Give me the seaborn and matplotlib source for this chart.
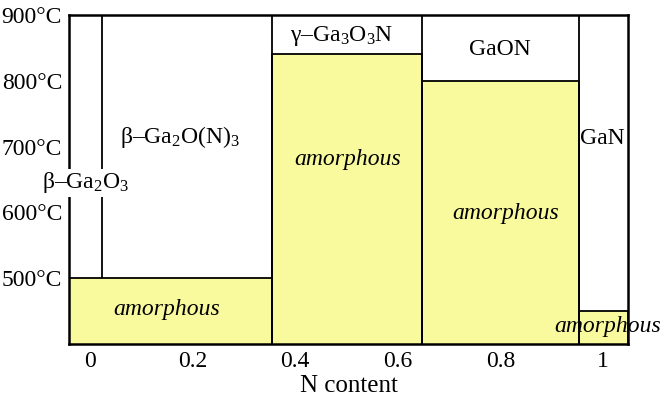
import seaborn as sns
import matplotlib.pyplot as plt
import numpy as np

# phase boundaries along N content, amorphous limit (deg C) per region
edges = [-0.041, 0.355, 0.647, 0.953, 1.049]
amorphous_top = [500, 841, 800, 450]
ga2o3_line = 0.023
x_ticks = [0, 0.2, 0.4, 0.6, 0.8, 1]
x_tick_labels = ['0', '0.2', '0.4', '0.6', '0.8', '1']
y_ticks = [500, 600, 700, 800, 900]
y_tick_labels = ['500°C', '600°C', '700°C', '800°C', '900°C']

sns.set_style('white')
plt.rcParams['font.family'] = ['Liberation Serif', 'DejaVu Serif']
plt.rcParams['mathtext.fontset'] = 'custom'
plt.rcParams['mathtext.rm'] = 'Liberation Serif'
plt.rcParams['mathtext.it'] = 'Liberation Serif:italic'
plt.rcParams['text.color'] = 'black'
plt.rcParams['axes.labelcolor'] = 'black'
plt.rcParams['xtick.color'] = 'black'
plt.rcParams['ytick.color'] = 'black'

fig = plt.figure(figsize=(6.62, 3.98), dpi=100)
ax = fig.add_axes([69 / 662, 1 - 344 / 398, (628 - 69) / 662, (344 - 15) / 398])

centers = [(a + b) / 2 for a, b in zip(edges[:-1], edges[1:])]
sns.histplot(x=centers, weights=amorphous_top, bins=edges, ax=ax,
             color='#f9f99e', alpha=1, edgecolor='black', linewidth=1.3)

ax.vlines(edges[1:4], 400, 900, color='black', linewidth=1.3)
ax.vlines([ga2o3_line], 500, 900, color='black', linewidth=1.3)

ax.set_xlim(edges[0], edges[-1])
ax.set_ylim(400, 900)
ax.set_xticks(x_ticks)
ax.set_xticklabels(x_tick_labels)
ax.set_yticks(y_ticks)
ax.set_yticklabels(y_tick_labels)
ax.tick_params(length=0, labelsize=17, pad=5)
ax.set_xlabel('N content', fontsize=18, labelpad=2)
ax.set_ylabel('')
for s in ax.spines.values():
    s.set_linewidth(1.8)
    s.set_color('black')

lab = dict(fontsize=17, ha='center', va='center')
ax.text(0.175, 714, r'β–Ga$_\mathrm{2}$O(N)$_\mathrm{3}$', **lab)
ax.text(-0.008, 645, r'β–Ga$_\mathrm{2}$O$_\mathrm{3}$', clip_on=False,
        bbox=dict(facecolor='white', edgecolor='none', pad=1), **lab)
ax.text(0.49, 868, r'γ–Ga$_\mathrm{3}$O$_\mathrm{3}$N', **lab)
ax.text(0.8, 847, 'GaON', **lab)
ax.text(0.955, 712, 'GaN', fontsize=17, ha='left', va='center')

am = dict(fontsize=17, style='italic', ha='center', va='center')
ax.text(0.15, 453, 'amorphous', **am)
ax.text(0.503, 680, 'amorphous', **am)
ax.text(0.81, 599, 'amorphous', **am)
ax.text(1.01, 427, 'amorphous', clip_on=False, **am)

fig.savefig('out.png', dpi=100)
